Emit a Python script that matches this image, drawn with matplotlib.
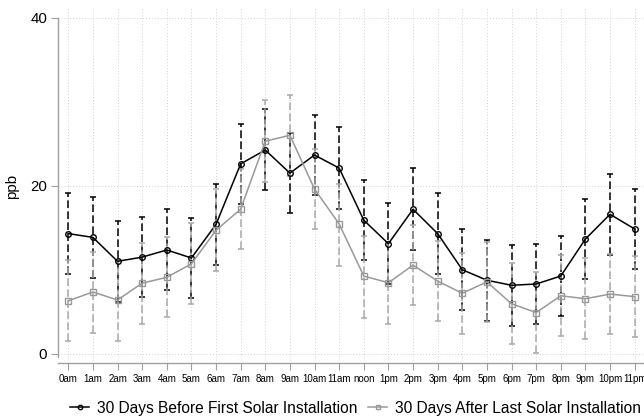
import matplotlib
matplotlib.use("Agg")
import matplotlib.pyplot as plt

plt.rcParams['font.family'] = ['Liberation Sans', 'DejaVu Sans']

hours = ["0am", "1am", "2am", "3am", "4am", "5am", "6am", "7am", "8am", "9am",
         "10am", "11am", "noon", "1pm", "2pm", "3pm", "4pm", "5pm", "6pm", "7pm",
         "8pm", "9pm", "10pm", "11pm"]

before_mean = [14.3, 13.85, 11.0, 11.5, 12.35, 11.4, 15.4, 22.6, 24.25, 21.5,
               23.65, 22.1, 15.9, 13.1, 17.2, 14.3, 10.0, 8.75, 8.15, 8.3,
               9.25, 13.65, 16.6, 14.85]
before_hi = [19.1, 18.65, 15.8, 16.3, 17.2, 16.2, 20.2, 27.3, 29.1, 26.3,
             28.45, 27.0, 20.7, 17.9, 22.1, 19.1, 14.8, 13.5, 12.95, 13.1,
             14.05, 18.45, 21.4, 19.65]
before_lo = [9.5, 9.05, 6.2, 6.7, 7.55, 6.6, 10.55, 17.8, 19.45, 16.7,
             18.85, 17.2, 11.1, 8.3, 12.35, 9.45, 5.15, 3.95, 3.35, 3.5,
             4.45, 8.85, 11.75, 10.05]

after_mean = [6.3, 7.35, 6.4, 8.4, 9.1, 10.7, 14.7, 17.2, 25.3, 26.0,
              19.6, 15.45, 9.25, 8.45, 10.55, 8.65, 7.2, 8.55, 5.95, 4.9,
              6.9, 6.55, 7.1, 6.8]
after_hi = [11.1, 12.15, 11.2, 13.2, 13.9, 15.6, 19.55, 22.0, 30.15, 30.85,
            24.4, 20.25, 14.05, 13.25, 15.35, 13.45, 12.0, 13.35, 10.75, 9.7,
            11.7, 11.35, 11.9, 11.6]
after_lo = [1.5, 2.5, 1.5, 3.55, 4.4, 5.9, 9.9, 12.5, 20.45, 21.15,
            14.8, 10.45, 4.3, 3.55, 5.8, 3.9, 2.3, 3.75, 1.2, 0.1,
            2.15, 1.75, 2.3, 1.95]

yticks = [0, 20, 40]

x = list(range(len(hours)))

fig = plt.figure(figsize=(6.44, 4.18), dpi=100)
ax = fig.add_axes([0.0905, 0.1316, 0.9095, 0.847])

BLACK = "#000000"
GRAY = "#999999"
GRAY_BAR = "#a8a8a8"


def draw_bars(mean, lo, hi, color, dashes, z):
    err = [[m - l for m, l in zip(mean, lo)], [h - m for m, h in zip(mean, hi)]]
    eb = ax.errorbar(x, mean, yerr=err, fmt='none', ecolor=color,
                     elinewidth=1.1, capsize=1.9, capthick=1.1, zorder=z)
    for lc in eb[2]:
        lc.set_linestyle((0, dashes))


draw_bars(before_mean, before_lo, before_hi, BLACK, (5, 2.2), 2)
draw_bars(after_mean, after_lo, after_hi, GRAY_BAR, (5, 2.2), 2.5)

l1, = ax.plot(x, before_mean, color=BLACK, lw=1.1, marker='o', ms=4,
              mfc='none', mec=BLACK, mew=1.0, zorder=3,
              label="30 Days Before First Solar Installation")
l2, = ax.plot(x, after_mean, color=GRAY, lw=1.1, marker='s', ms=4,
              mfc='none', mec=GRAY, mew=1.0, zorder=3.5,
              label="30 Days After Last Solar Installation")

ax.set_xlim(-0.406, 23.38)
ax.set_ylim(-1.1, 41.04)

ax.set_xticks(x)
ax.set_xticklabels(hours, fontsize=7.0)
ax.set_yticks(yticks)
ax.set_yticklabels([str(v) for v in yticks], fontsize=10.8)

ax.grid(True, axis='both', linestyle=(0, (1, 2)), color='#d2d2d2', lw=0.7)
ax.set_axisbelow(True)

for side in ('top', 'right'):
    ax.spines[side].set_visible(False)
ax.spines['left'].set_color('#a0a0a0')
ax.spines['bottom'].set_color('#a0a0a0')
ax.spines['left'].set_bounds(-0.4, 40)
ax.spines['left'].set_linewidth(1.0)
ax.spines['bottom'].set_linewidth(1.0)

ax.tick_params(axis='x', length=5, width=0.8, color='#a0a0a0', pad=3)
ax.tick_params(axis='y', length=5, width=0.8, color='#a0a0a0', pad=3)

ax.set_ylabel("ppb", fontsize=10.8, labelpad=8)

fig.legend(handles=[l1, l2], loc='center', bbox_to_anchor=(0.552, 0.023),
           ncol=2, frameon=False, fontsize=11.2, handlelength=1.2,
           handletextpad=0.5, columnspacing=0.7, markerscale=0.8)

fig.savefig("out.png", dpi=100)
